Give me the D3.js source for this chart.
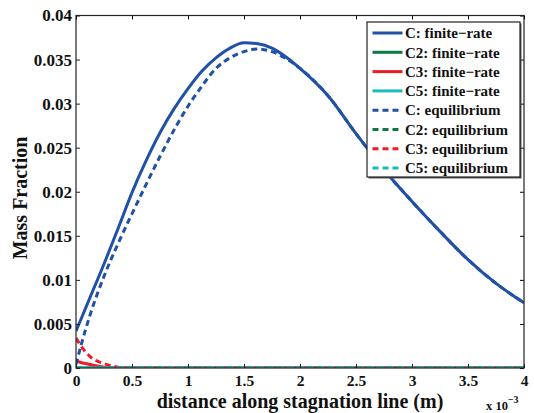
<!DOCTYPE html>
<html>
<head>
<meta charset="utf-8">
<script src="https://cdn.jsdelivr.net/npm/d3@7"></script>
<style>
  body { margin: 0; background: #fff; }
  svg text { font-family: "Liberation Serif", "Times New Roman", serif; font-weight: bold; }
</style>
</head>
<body>
<div id="chart"></div>
<script>
// distance along stagnation line, units of 1e-3 m
const distance = [0, 0.05, 0.125, 0.25, 0.375, 0.5, 0.625, 0.75, 0.875, 1.0, 1.125, 1.25, 1.375,
  1.5, 1.625, 1.75, 1.875, 2.0, 2.25, 2.5, 2.75, 3.0, 3.25, 3.5, 3.75, 4.0];

const cFinite = [0.0042, 0.0057, 0.0080, 0.0118, 0.0158, 0.0199, 0.0235, 0.0267, 0.0294, 0.0317, 0.0337, 0.0352, 0.0363,
  0.0369, 0.0368, 0.0363, 0.0353, 0.0340, 0.0309, 0.0266, 0.0225, 0.0189, 0.0155, 0.0123, 0.0096, 0.0074];
const c2Finite = [0, 0, 0, 0, 0, 0, 0, 0, 0, 0, 0, 0, 0, 0, 0, 0, 0, 0, 0, 0, 0, 0, 0, 0, 0, 0];
const c3Finite = [0.0008, 0.0006, 0.0004, 0.0001, 0, 0, 0, 0, 0, 0, 0, 0, 0, 0, 0, 0, 0, 0, 0, 0, 0, 0, 0, 0, 0, 0];
const c5Finite = [0, 0, 0, 0, 0, 0, 0, 0, 0, 0, 0, 0, 0, 0, 0, 0, 0, 0, 0, 0, 0, 0, 0, 0, 0, 0];

const cEquil = [0.0004, 0.0028, 0.0060, 0.0104, 0.0141, 0.0175, 0.0208, 0.0240, 0.0270, 0.0297, 0.0320, 0.0340, 0.0352,
  0.0359, 0.0362, 0.0359, 0.0351, 0.0340, 0.0309, 0.0266, 0.0225, 0.0189, 0.0155, 0.0123, 0.0096, 0.0074];
const c2Equil = [0, 0, 0, 0, 0, 0, 0, 0, 0, 0, 0, 0, 0, 0, 0, 0, 0, 0, 0, 0, 0, 0, 0, 0, 0, 0];
const c3Equil = [0.0034, 0.0024, 0.0013, 0.0005, 0.0001, 0, 0, 0, 0, 0, 0, 0, 0, 0, 0, 0, 0, 0, 0, 0, 0, 0, 0, 0, 0, 0];
const c5Equil = [0, 0, 0, 0, 0, 0, 0, 0, 0, 0, 0, 0, 0, 0, 0, 0, 0, 0, 0, 0, 0, 0, 0, 0, 0, 0];

const seriesNames = ["C: finite\u2212rate", "C2: finite\u2212rate", "C3: finite\u2212rate", "C5: finite\u2212rate",
  "C: equilibrium", "C2: equilibrium", "C3: equilibrium", "C5: equilibrium"];
const seriesValues = [cFinite, c2Finite, c3Finite, c5Finite, cEquil, c2Equil, c3Equil, c5Equil];

const xTicks = [0, 0.5, 1, 1.5, 2, 2.5, 3, 3.5, 4];
const yTicks = [0, 0.005, 0.01, 0.015, 0.02, 0.025, 0.03, 0.035, 0.04];

const width = 534, height = 413,
  margin = { top: 15.5, bottom: 45, left: 76, right: 10 };

const colors = ["#2151a6", "#0b7a3e", "#ee1c25", "#18bcbc"];
const serif = "Liberation Serif, Times New Roman, serif";

const svg = d3.select("#chart")
  .append("svg")
  .attr("width", width)
  .attr("height", height);

const xScale = d3.scaleLinear()
  .domain([0, 4])
  .range([margin.left, width - margin.right]);

const yScale = d3.scaleLinear()
  .domain([0, 0.04])
  .range([height - margin.bottom, margin.top]);

svg.append("defs")
  .append("clipPath")
  .attr("id", "plotClip")
  .append("rect")
  .attr("x", margin.left)
  .attr("y", margin.top - 2)
  .attr("width", width - margin.right - margin.left)
  .attr("height", height - margin.bottom - margin.top + 2);

// lines
const lineFunc = d3.line()
  .x(d => xScale(d[0]))
  .y(d => yScale(d[1]))
  .curve(d3.curveMonotoneX);

svg.append("g")
  .attr("clip-path", "url(#plotClip)")
  .selectAll("path")
  .data(seriesValues)
  .join("path")
  .attr("fill", "none")
  .attr("stroke", (d, i) => colors[i % 4])
  .attr("stroke-width", 3)
  .attr("stroke-dasharray", (d, i) => i < 4 ? null : "6,4")
  .attr("d", d => lineFunc(d.map((v, j) => [distance[j], v])));

// axes (ticks pointing inward, like matlab)
const xAxis = d3.axisBottom(xScale).tickValues(xTicks).tickSizeInner(-4).tickSizeOuter(0).tickPadding(6)
  .tickFormat(d3.format("~g"));
const yAxis = d3.axisLeft(yScale).tickValues(yTicks).tickSizeInner(-4).tickSizeOuter(0).tickPadding(4)
  .tickFormat(d => d === 0 ? "0" : d3.format("~g")(d));

svg.append("g")
  .attr("transform", `translate(0,${height - margin.bottom})`)
  .call(xAxis)
  .attr("font-family", serif)
  .attr("font-weight", "bold")
  .attr("font-size", 15.5)
  .call(g => g.select(".domain").remove())
  .call(g => g.selectAll("text").attr("fill", "#111").attr("dy", null).attr("y", 17.5))
  .call(g => g.selectAll("line").attr("stroke", "#222"));

svg.append("g")
  .attr("transform", `translate(${margin.left},0)`)
  .call(yAxis)
  .attr("font-family", serif)
  .attr("font-weight", "bold")
  .attr("font-size", 17)
  .call(g => g.select(".domain").remove())
  .call(g => g.selectAll("text").attr("fill", "#111").attr("x", -4))
  .call(g => g.selectAll("line").attr("stroke", "#222"));

// mirrored ticks on top and right
svg.append("g")
  .attr("transform", `translate(0,${margin.top})`)
  .call(d3.axisTop(xScale).tickValues(xTicks).tickSizeInner(-4).tickSizeOuter(0).tickFormat(""))
  .call(g => g.select(".domain").remove());

svg.append("g")
  .attr("transform", `translate(${width - margin.right},0)`)
  .call(d3.axisRight(yScale).tickValues(yTicks).tickSizeInner(-4).tickSizeOuter(0).tickFormat(""))
  .call(g => g.select(".domain").remove());

// box
svg.append("rect")
  .attr("x", margin.left)
  .attr("y", margin.top)
  .attr("width", width - margin.right - margin.left)
  .attr("height", height - margin.bottom - margin.top)
  .attr("fill", "none")
  .attr("stroke", "#222")
  .attr("stroke-width", 1.2);

// axis labels
svg.append("text")
  .attr("x", xScale(2))
  .attr("y", 407.5)
  .attr("text-anchor", "middle")
  .attr("font-size", 20)
  .attr("fill", "#111")
  .text("distance along stagnation line (m)");

svg.append("text")
  .attr("transform", `translate(27,${yScale(0.0193)}) rotate(-90)`)
  .attr("text-anchor", "middle")
  .attr("font-size", 20)
  .attr("fill", "#111")
  .text("Mass Fraction");

const expLabel = svg.append("text")
  .attr("x", 486)
  .attr("y", 410)
  .attr("font-size", 12.5)
  .attr("fill", "#111");
expLabel.append("tspan").text("x 10");
expLabel.append("tspan").attr("dy", -7).attr("font-size", 10).text("\u22123");

// legend
const legend = svg.append("g")
  .attr("transform", "translate(367,22)");

legend.append("rect")
  .attr("x", 1.5)
  .attr("y", 1.5)
  .attr("width", 153)
  .attr("height", 155)
  .attr("fill", "#555");

legend.append("rect")
  .attr("width", 153)
  .attr("height", 155)
  .attr("fill", "#fff")
  .attr("stroke", "#222")
  .attr("stroke-width", 1.2);

const entry = legend.selectAll("g.entry")
  .data(seriesNames)
  .join("g")
  .attr("class", "entry")
  .attr("transform", (d, i) => `translate(0,${11 + i * 19.3})`);

entry.append("line")
  .attr("x1", 5.5)
  .attr("x2", 35.5)
  .attr("stroke", (d, i) => colors[i % 4])
  .attr("stroke-width", 3)
  .attr("stroke-dasharray", (d, i) => i < 4 ? null : "6,4");

entry.append("text")
  .attr("x", 38)
  .attr("dy", "0.35em")
  .attr("font-size", 15)
  .attr("fill", "#111")
  .text(d => d);
</script>
</body>
</html>
